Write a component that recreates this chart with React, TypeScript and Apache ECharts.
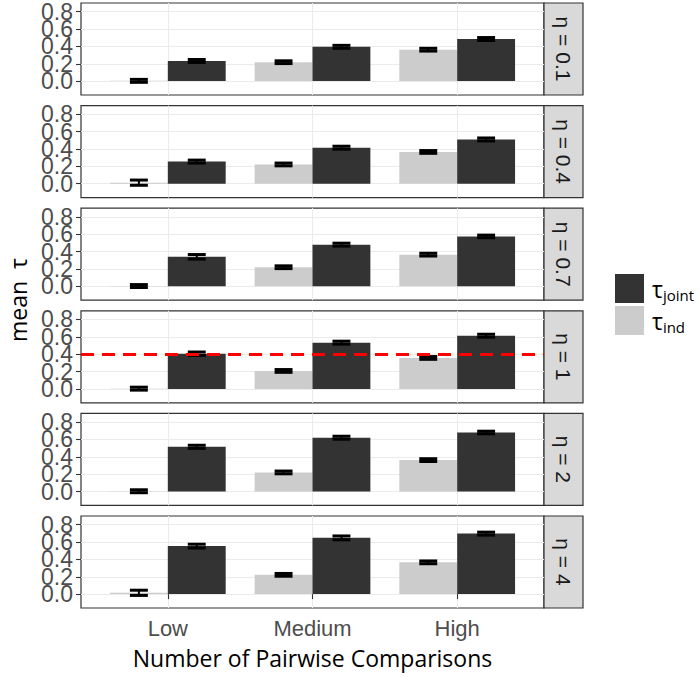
import { useEffect, useRef } from 'react';
import * as echarts from 'echarts';

// facet rows (η) and the comparison levels on the x axis
const ETA = ['0.1', '0.4', '0.7', '1', '2', '4'];
const CATEGORIES = ['Low', 'Medium', 'High'];
const Y_TICKS = [0, 0.2, 0.4, 0.6, 0.8];

// mean τ and its standard error, one row per η, one column per level
const IND_MEAN = [
  [0.003, 0.218, 0.362],
  [0.012, 0.222, 0.366],
  [0.003, 0.22, 0.365],
  [0.003, 0.207, 0.357],
  [0.003, 0.22, 0.362],
  [0.015, 0.222, 0.366],
];
const IND_SE = [
  [0.017, 0.016, 0.016],
  [0.03, 0.016, 0.016],
  [0.017, 0.016, 0.016],
  [0.017, 0.016, 0.016],
  [0.017, 0.016, 0.016],
  [0.03, 0.016, 0.016],
];
const JOINT_MEAN = [
  [0.232, 0.395, 0.485],
  [0.255, 0.415, 0.51],
  [0.34, 0.48, 0.575],
  [0.405, 0.533, 0.613],
  [0.515, 0.62, 0.68],
  [0.553, 0.648, 0.697],
];
const JOINT_SE = [
  [0.017, 0.017, 0.017],
  [0.017, 0.017, 0.017],
  [0.026, 0.017, 0.015],
  [0.02, 0.017, 0.017],
  [0.018, 0.017, 0.015],
  [0.022, 0.022, 0.017],
];
const REFERENCE_TAU = 0.4;
const REFERENCE_PANEL = 3; // the η = 1 row

// layout
const WIDTH = 700;
const HEIGHT = 677;
const PANEL_LEFT = 81;
const PANEL_WIDTH = 463;
const PANEL_TOP = 3;
const PANEL_HEIGHT = 92;
const PANEL_STEP = 102.6;
const STRIP_WIDTH = 39;
const X_EXPAND = 0.6; // discrete-scale padding around the first/last category, in category units
const Y_MIN = -0.16;
const Y_MAX = 0.9;

const TEXT_FONT = "'Liberation Sans', Arial, sans-serif";
const TITLE_FONT = "'Open Sans', 'Noto Sans', sans-serif";
const DARK = '#333333';
const LIGHT = '#CCCCCC';
const GRID_LINE = '#EBEBEB';
const AXIS_TEXT = '#4D4D4D';

function errorBarRenderer(side: number) {
  return (_params: any, api: any) => {
    const cat = api.value(0);
    const mean = api.value(1);
    const se = api.value(2);
    const band = api.size([1, 0])[0];
    const x = api.coord([cat, mean])[0] + side * band * 0.2;
    const yHi = api.coord([cat, mean + se])[1];
    const yLo = api.coord([cat, mean - se])[1];
    const half = band * 0.062;
    const style = { stroke: '#000', lineWidth: 3, fill: null };
    return {
      type: 'group',
      children: [
        { type: 'line', shape: { x1: x - half, y1: yHi, x2: x + half, y2: yHi }, style },
        { type: 'line', shape: { x1: x - half, y1: yLo, x2: x + half, y2: yLo }, style },
        { type: 'line', shape: { x1: x, y1: yHi, x2: x, y2: yLo }, style: { ...style, lineWidth: 2 } },
      ],
    };
  };
}

// tick labels of a frame's y axis; alternate ticks go on two stacked axes so
// the large labels are not thinned out for crowding
function tickLabel(values: number[]) {
  return {
    customValues: values,
    showMinLabel: true,
    showMaxLabel: true,
    hideOverlap: false,
    formatter: (v: number) => v.toFixed(1),
    color: AXIS_TEXT,
    fontSize: 23,
    fontFamily: TEXT_FONT,
    margin: 8,
  };
}

function buildOption() {
  const n = ETA.length;
  // the category positions 1..k span (k - 1) units plus the padding on both sides
  const unit = PANEL_WIDTH / (CATEGORIES.length - 1 + 2 * X_EXPAND);
  const innerLeft = PANEL_LEFT + (X_EXPAND - 0.5) * unit;
  const innerWidth = CATEGORIES.length * unit;
  const evenTicks = Y_TICKS.filter((_, k) => k % 2 === 0);
  const oddTicks = Y_TICKS.filter((_, k) => k % 2 === 1);

  const grid: any[] = [];
  const xAxis: any[] = [];
  const yAxis: any[] = [];
  const series: any[] = [];
  const graphic: any[] = [];

  // panel frames: border, background, y axis and grid lines
  ETA.forEach((_, i) => {
    const top = PANEL_TOP + i * PANEL_STEP;
    grid.push({
      left: PANEL_LEFT,
      top,
      width: PANEL_WIDTH,
      height: PANEL_HEIGHT,
      show: true,
      backgroundColor: '#fff',
      borderColor: DARK,
      borderWidth: 1.2,
      containLabel: false,
      outerBoundsMode: 'none',
    });
    xAxis.push({
      type: 'value',
      gridIndex: i,
      min: 1 - X_EXPAND,
      max: CATEGORIES.length + X_EXPAND,
      axisLine: { show: false },
      axisTick: { show: false, customValues: CATEGORIES.map((_, k) => k + 1) },
      axisLabel: { show: false, customValues: CATEGORIES.map((_, k) => k + 1) },
      splitLine: { show: true, lineStyle: { color: GRID_LINE, width: 1.1 } },
    });
    yAxis.push({
      type: 'value',
      gridIndex: i,
      min: Y_MIN,
      max: Y_MAX,
      axisLine: { show: false },
      axisTick: { show: true, length: 5, customValues: Y_TICKS, lineStyle: { color: DARK, width: 1.1 } },
      axisLabel: tickLabel(evenTicks),
      splitLine: { show: true, lineStyle: { color: GRID_LINE, width: 1.1 } },
    });
  });

  // data panels: category axis over the padded centre of each frame
  ETA.forEach((_, i) => {
    const top = PANEL_TOP + i * PANEL_STEP;
    const last = i === n - 1;
    grid.push({
      left: innerLeft,
      top,
      width: innerWidth,
      height: PANEL_HEIGHT,
      show: false,
      containLabel: false,
      outerBoundsMode: 'none',
    });
    xAxis.push({
      type: 'category',
      gridIndex: n + i,
      data: CATEGORIES,
      axisLine: { show: false },
      axisTick: { show: last, alignWithLabel: true, length: 5, lineStyle: { color: DARK, width: 1.1 } },
      axisLabel: { show: last, color: AXIS_TEXT, fontSize: 22, fontFamily: TEXT_FONT, margin: 9 },
      splitLine: { show: false },
      name: last ? 'Number of Pairwise Comparisons' : '',
      nameLocation: 'middle',
      nameGap: 38,
      nameTextStyle: { color: '#000', fontSize: 23, fontFamily: TITLE_FONT },
    });
    yAxis.push({ type: 'value', gridIndex: n + i, min: Y_MIN, max: Y_MAX, show: false });

    const xi = n + i;
    series.push(
      {
        name: 'ind',
        type: 'bar',
        xAxisIndex: xi,
        yAxisIndex: xi,
        data: IND_MEAN[i],
        itemStyle: { color: LIGHT },
        barGap: '0%',
        barCategoryGap: '20%',
      },
      {
        name: 'joint',
        type: 'bar',
        xAxisIndex: xi,
        yAxisIndex: xi,
        data: JOINT_MEAN[i],
        itemStyle: { color: DARK },
        barGap: '0%',
        barCategoryGap: '20%',
      },
      {
        name: 'ind error',
        type: 'custom',
        xAxisIndex: xi,
        yAxisIndex: xi,
        z: 3,
        encode: { x: 0, y: 1 },
        data: IND_MEAN[i].map((m, k) => [k, m, IND_SE[i][k]]),
        renderItem: errorBarRenderer(-1),
      },
      {
        name: 'joint error',
        type: 'custom',
        xAxisIndex: xi,
        yAxisIndex: xi,
        z: 3,
        encode: { x: 0, y: 1 },
        data: JOINT_MEAN[i].map((m, k) => [k, m, JOINT_SE[i][k]]),
        renderItem: errorBarRenderer(1),
      }
    );

    // facet strip on the right
    graphic.push(
      {
        type: 'rect',
        shape: { x: PANEL_LEFT + PANEL_WIDTH, y: top, width: STRIP_WIDTH, height: PANEL_HEIGHT },
        style: { fill: '#D9D9D9', stroke: DARK, lineWidth: 1.2 },
      },
      {
        type: 'text',
        x: PANEL_LEFT + PANEL_WIDTH + STRIP_WIDTH / 2,
        y: top + PANEL_HEIGHT / 2,
        rotation: -Math.PI / 2,
        style: {
          text: `η = ${ETA[i]}`,
          fill: '#1A1A1A',
          font: `21px ${TEXT_FONT}`,
          align: 'center',
          verticalAlign: 'middle',
        },
      }
    );
  });

  // second label axis on each frame for the in-between ticks
  ETA.forEach((_, i) => {
    yAxis.push({
      type: 'value',
      gridIndex: i,
      position: 'left',
      min: Y_MIN,
      max: Y_MAX,
      axisLine: { show: false },
      axisTick: { show: false },
      splitLine: { show: false },
      axisLabel: tickLabel(oddTicks),
    });
  });

  // dashed reference line in the η = 1 row
  series.push({
    name: 'reference',
    type: 'line',
    xAxisIndex: REFERENCE_PANEL,
    yAxisIndex: REFERENCE_PANEL,
    data: [],
    markLine: {
      silent: true,
      symbol: 'none',
      label: { show: false },
      lineStyle: { color: '#FF0000', type: [13, 8], width: 3.2 },
      data: [{ yAxis: REFERENCE_TAU }],
    },
  });

  // y axis title
  graphic.push({
    type: 'text',
    x: 18,
    y: 300,
    rotation: Math.PI / 2,
    style: {
      text: 'mean  τ',
      fill: '#000',
      font: `23px ${TITLE_FONT}`,
      align: 'center',
      verticalAlign: 'middle',
    },
  });

  return {
    animation: false,
    backgroundColor: '#fff',
    grid,
    xAxis,
    yAxis,
    series,
    graphic,
    legend: {
      data: ['joint', 'ind'],
      orient: 'vertical',
      left: 615,
      top: 274,
      itemWidth: 29,
      itemHeight: 29,
      itemGap: 3,
      icon: 'rect',
      padding: 0,
      selectedMode: false,
      formatter: (name: string) => `{t|τ}{s|${name}}`,
      textStyle: {
        rich: {
          t: { fontSize: 23, fontFamily: TITLE_FONT, color: '#000', padding: [0, 0, 0, 3] },
          s: { fontSize: 15, fontFamily: TITLE_FONT, color: '#000', padding: [12, 0, 0, 0] },
        },
      },
    },
  };
}

export default function App() {
  const ref = useRef<HTMLDivElement>(null);
  useEffect(() => {
    if (!ref.current) return;
    const chart = echarts.init(ref.current, null, { renderer: 'svg' });
    chart.setOption(buildOption() as any);
    return () => chart.dispose();
  }, []);
  return (
    <div
      ref={ref}
      style={{ position: 'absolute', left: 0, top: 0, width: WIDTH, height: HEIGHT }}
    />
  );
}
